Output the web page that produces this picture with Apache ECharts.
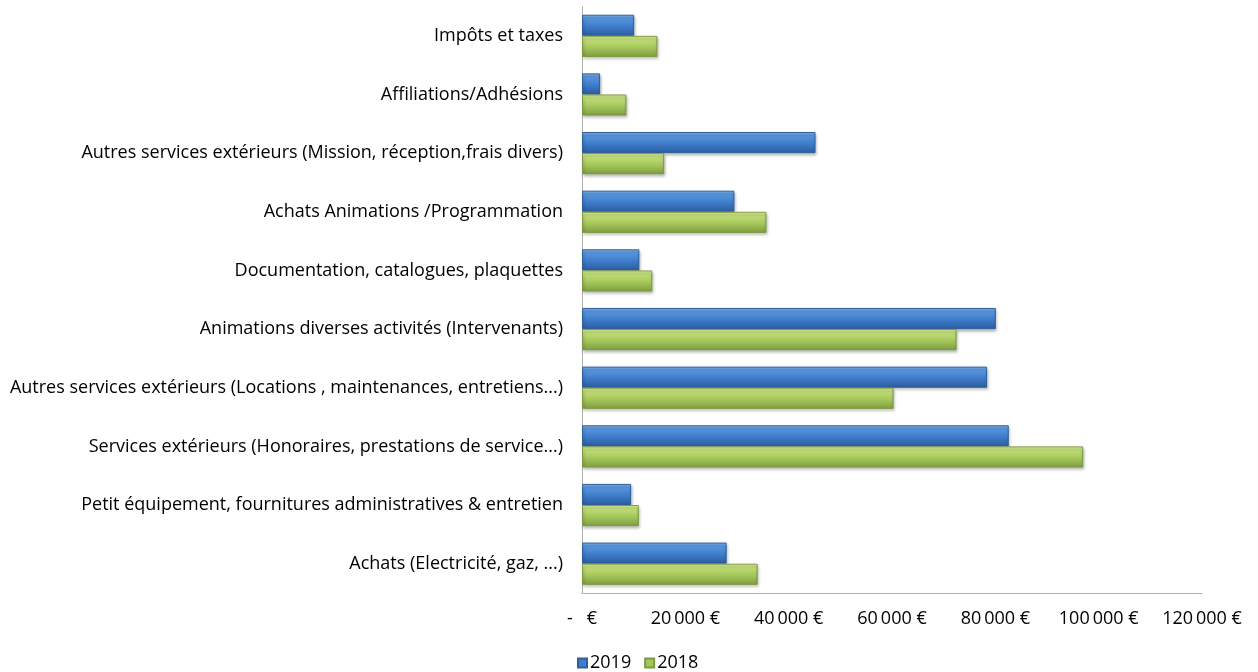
<!DOCTYPE html>
<html><head><meta charset="utf-8">
<script src="https://cdn.jsdelivr.net/npm/echarts@6/dist/echarts.min.js"></script>
<style>html,body{margin:0;padding:0;background:#fff}#c{width:1258px;height:672px}</style>
</head><body><div id="c"></div>
<script>
// categories listed top to bottom
const categories = [
  "Impôts et taxes",
  "Affiliations/Adhésions",
  "Autres services extérieurs (Mission, réception,frais divers)",
  "Achats Animations /Programmation",
  "Documentation, catalogues, plaquettes",
  "Animations diverses activités (Intervenants)",
  "Autres services extérieurs (Locations , maintenances, entretiens...)",
  "Services extérieurs (Honoraires, prestations de service...)",
  "Petit équipement, fournitures administratives & entretien",
  "Achats (Electricité, gaz, ...)"
];
const values2019 = [10100, 3500, 45200, 29500, 11100, 80100, 78400, 82600, 9500, 28000];
const values2018 = [14600, 8600, 15900, 35700, 13600, 72500, 60300, 97000, 11000, 34000];
const xTicks = [0, 20000, 40000, 60000, 80000, 100000, 120000];

function fmt(v){
  if (v === 0) return '-   €';
  return String(v).replace(/\B(?=(\d{3})+(?!\d))/g, '\u2009') + ' €';
}
const blue = {type:'linear',x:0,y:0,x2:0,y2:1,colorStops:[
  {offset:0,color:'#8dbdf0'},{offset:0.15,color:'#5a98e0'},{offset:0.55,color:'#3f7ccb'},{offset:1,color:'#2b5c9e'}]};
const green = {type:'linear',x:0,y:0,x2:0,y2:1,colorStops:[
  {offset:0,color:'#e2f2a6'},{offset:0.15,color:'#c4e07a'},{offset:0.55,color:'#a5c75b'},{offset:1,color:'#7f9d3f'}]};

const FONT = 'Open Sans';
const chart = echarts.init(document.getElementById('c'));
chart.setOption({
  animation:false,
  textStyle:{fontFamily:FONT},
  grid:{left:582, right:56, top:6.5, bottom:79, containLabel:false},
  legend:{
    data:[{name:'2019',itemStyle:{color:'#3f7ccb'}},{name:'2018',itemStyle:{color:'#a5c75b'}}],
    left:572, top:649, itemWidth:9, itemHeight:9, itemGap:13,
    icon:'rect',
    textStyle:{fontSize:18,color:'#000',fontFamily:FONT,padding:[0,0,0,-2]}
  },
  xAxis:{
    type:'value', min:0, max:120000, interval:20000,
    axisLine:{show:true,lineStyle:{color:'#b0b0b0',width:1}},
    axisTick:{show:false}, splitLine:{show:false},
    axisLabel:{formatter:fmt, fontSize:18, color:'#000', margin:17, fontFamily:FONT}
  },
  yAxis:{
    type:'category', data:categories, inverse:true,
    axisLine:{show:true,lineStyle:{color:'#b0b0b0',width:1}},
    axisTick:{show:false},
    axisLabel:{fontSize:18, color:'#000', margin:19, fontFamily:FONT}
  },
  series:[
    {name:'2019', type:'bar', data:values2019, barGap:'0%', barCategoryGap:'28%',
     itemStyle:{color:blue, borderColor:'#2f5f9c', borderWidth:1, shadowColor:'rgba(0,0,0,0.3)', shadowBlur:3, shadowOffsetX:1, shadowOffsetY:2}},
    {name:'2018', type:'bar', data:values2018, barGap:'0%', barCategoryGap:'28%',
     itemStyle:{color:green, borderColor:'#7d9a42', borderWidth:1, shadowColor:'rgba(0,0,0,0.3)', shadowBlur:3, shadowOffsetX:1, shadowOffsetY:2}}
  ]
});
</script></body></html>
